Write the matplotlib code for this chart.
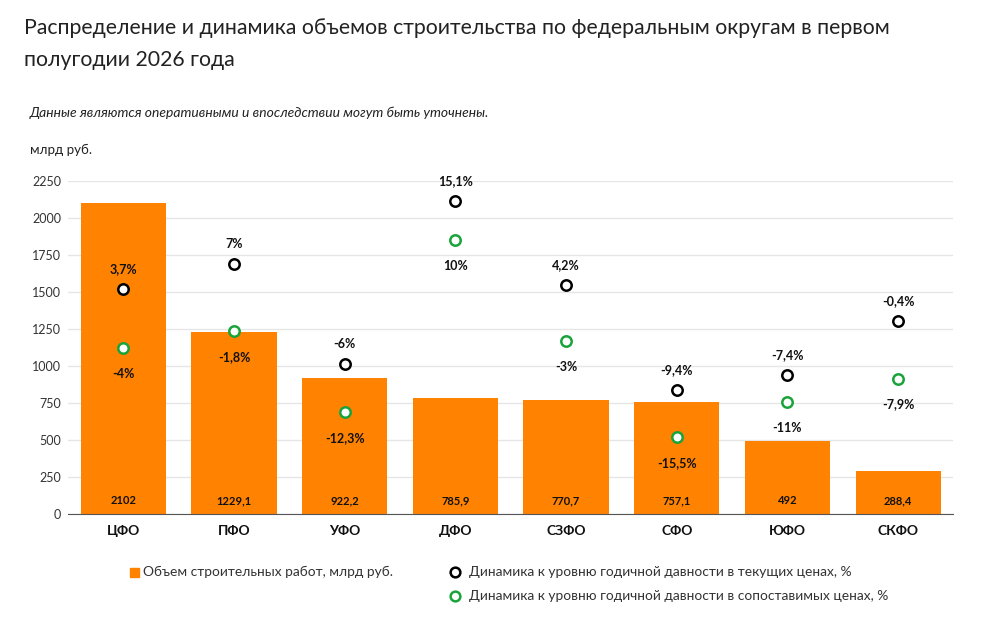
import matplotlib.pyplot as plt

plt.rcParams['font.family'] = ['Lato', 'DejaVu Sans']

districts = ['ЦФО', 'ПФО', 'УФО', 'ДФО', 'СЗФО', 'СФО', 'ЮФО', 'СКФО']
volume = [2102, 1229.1, 922.2, 785.9, 770.7, 757.1, 492, 288.4]
dyn_current = [3.7, 7, -6, 15.1, 4.2, -9.4, -7.4, -0.4]
dyn_comparable = [-4, -1.8, -12.3, 10, -3, -15.5, -11, -7.9]
yticks = [0, 250, 500, 750, 1000, 1250, 1500, 1750, 2000, 2250]

orange = '#ff8200'
green = '#1aa33a'


def fmt(v):
    s = ('%g' % v).replace('.', ',')
    return s


fig = plt.figure(figsize=(9.86, 6.25), dpi=100)
ax = fig.add_axes([0.069, 0.1776, 0.898, 0.5328])

x = list(range(len(districts)))
ax.bar(x, volume, width=0.77, color=orange, zorder=2)
ax.set_xlim(-0.5, len(districts) - 0.5)
ax.set_ylim(0, 2250)
ax.set_yticks(yticks)
ax.set_yticklabels([str(t) for t in yticks], fontsize=9, color='#333333')
ax.set_xticks(x)
ax.set_xticklabels(districts, fontsize=10, fontweight='bold', color='#111111')
ax.tick_params(axis='both', length=0)
ax.tick_params(axis='y', pad=5)
ax.tick_params(axis='x', pad=8)
ax.grid(axis='y', color='#e6e6e6', lw=1, zorder=0)
for s in ['top', 'right', 'left']:
    ax.spines[s].set_visible(False)
ax.spines['bottom'].set_color('#555555')
ax.spines['bottom'].set_zorder(3)

for xi, v in zip(x, volume):
    ax.text(xi, 88, fmt(v), ha='center', va='center', fontsize=8,
            fontweight='bold', color='#111111', zorder=4)

# secondary scale for percentages (hidden)
ax2 = ax.twinx()
a, b = 1327.0, 52.1
ax2.set_ylim((0 - a) / b, (2250 - a) / b)
ax2.set_axis_off()

ax2.plot(x, dyn_current, ls='none', marker='o', ms=7.5, mew=1.8,
         mec='#000000', mfc='white', zorder=5, clip_on=False)
ax2.plot(x, dyn_comparable, ls='none', marker='o', ms=7.5, mew=1.8,
         mec=green, mfc='white', zorder=5, clip_on=False)

for xi, v in zip(x, dyn_current):
    ax2.annotate(fmt(v) + '%', (xi, v), xytext=(0, 20),
                 textcoords='offset pixels', ha='center', va='center',
                 fontsize=9, fontweight='bold', color='#111111',
                 annotation_clip=False)
for xi, v in zip(x, dyn_comparable):
    ax2.annotate(fmt(v) + '%', (xi, v), xytext=(0, -26),
                 textcoords='offset pixels', ha='center', va='center',
                 fontsize=9, fontweight='bold', color='#111111',
                 annotation_clip=False)

fig.text(24 / 986, 1 - 28 / 625,
         'Распределение и динамика объемов строительства по федеральным округам в первом',
         fontsize=15.3, color='#222222', va='center')
fig.text(24 / 986, 1 - 60 / 625, 'полугодии 2026 года',
         fontsize=15.3, color='#222222', va='center')
fig.text(30 / 986, 1 - 113 / 625,
         'Данные являются оперативными и впоследствии могут быть уточнены.',
         fontsize=10, style='italic', color='#222222', va='center')
fig.text(30 / 986, 1 - 150 / 625, 'млрд руб.', fontsize=9.6,
         color='#222222', va='center')

# legend
fig.patches.append(plt.Rectangle((130 / 986, 1 - 577 / 625), 9 / 986, 9 / 625,
                                 transform=fig.transFigure, color=orange))
fig.text(143 / 986, 1 - 572 / 625, 'Объем строительных работ, млрд руб.',
         fontsize=9.9, color='#333333', va='center')
fig.lines.append(plt.Line2D([455 / 986], [1 - 572 / 625], marker='o', ms=7, mew=1.8,
                            mec='#000000', mfc='white', transform=fig.transFigure))
fig.text(469 / 986, 1 - 572 / 625,
         'Динамика к уровню годичной давности в текущих ценах, %',
         fontsize=9.9, color='#333333', va='center')
fig.lines.append(plt.Line2D([455 / 986], [1 - 596 / 625], marker='o', ms=7, mew=1.8,
                            mec=green, mfc='white', transform=fig.transFigure))
fig.text(469 / 986, 1 - 596 / 625,
         'Динамика к уровню годичной давности в сопоставимых ценах, %',
         fontsize=9.9, color='#333333', va='center')

fig.savefig('out.png', dpi=100)
